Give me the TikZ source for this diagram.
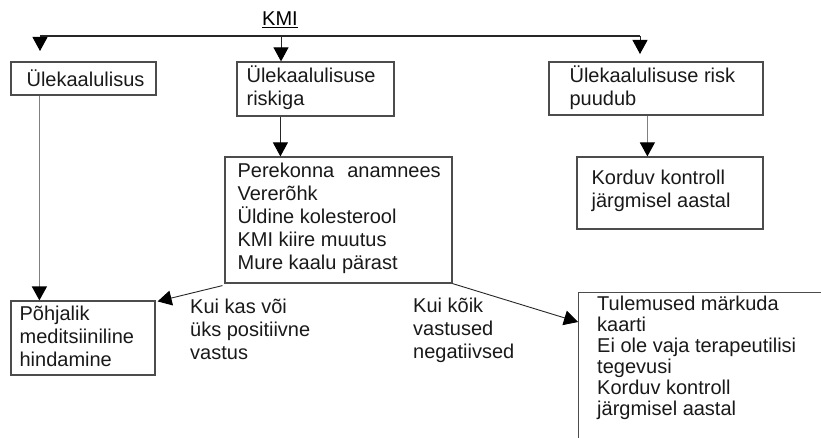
\documentclass[tikz,border=0pt]{standalone}
\usepackage{fontspec}
\setmainfont{Liberation Sans}
\usetikzlibrary{arrows.meta}
\begin{document}
\begin{tikzpicture}[x=1pt,y=-1pt,
  every node/.style={font=\fontsize{20}{23}\selectfont},
  boxs/.style={draw=black!70, line width=1.2pt, rectangle, inner sep=0pt},
  txt/.style={align=left, inner sep=0pt, text=black!90},
  ln/.style={draw=black!85, line width=0.9pt},
  grayln/.style={draw=black!50, line width=1.5pt},
  arr/.style={-{Triangle[length=14pt,width=15pt,fill=black,color=black]}}
]
\useasboundingbox (0,0) rectangle (821,438);
\clip (0,0) rectangle (821,438);

% KMI title
\node[inner sep=0pt] (kmi) at (280,20) {\underline{KMI}};

% boxes
\node[boxs, minimum width=145pt, minimum height=33pt] (b1) at (83.5,78.5) {};
\node[txt, anchor=west] (t1) at ([xshift=16pt]b1.west) {Ülekaalulisus};

\node[boxs, minimum width=157pt, minimum height=54pt] (b2) at (315.5,89) {};
\node[txt, anchor=west] (t2) at ([xshift=10pt,yshift=1pt]b2.west) {Ülekaalulisuse\\riskiga};

\node[boxs, minimum width=214pt, minimum height=53pt] (b3) at (656,88.5) {};
\node[txt, anchor=west] (t3) at ([xshift=21pt,yshift=1pt]b3.west) {Ülekaalulisuse risk\\puudub};

\node[boxs, minimum width=227pt, minimum height=126pt] (b5) at (338.5,220) {};
\node[txt, anchor=west] (t5) at ([xshift=13pt,yshift=2pt]b5.west) {Perekonna\hspace{13pt}anamnees\\Vererõhk\\Üldine kolesterool\\KMI kiire muutus\\Mure kaalu pärast};

\node[boxs, minimum width=186pt, minimum height=72pt] (bK) at (670,193) {};
\node[txt, anchor=west] (tK) at ([xshift=15pt,yshift=2pt]bK.west) {Korduv kontroll\\järgmisel aastal};

\node[boxs, minimum width=144pt, minimum height=74pt] (b4) at (83,338) {};
\node[txt, anchor=west] (t4) at ([xshift=9pt,yshift=2pt]b4.west) {Põhjalik\\meditsiiniline\\hindamine};

\node[boxs, anchor=north west, minimum width=260pt, minimum height=200pt] (b6) at (578,292) {};
\node[txt, anchor=north west, font=\fontsize{20}{21}\selectfont] (t6) at ([xshift=19pt,yshift=-4pt]b6.north west) {Tulemused märkuda\\kaarti\\Ei ole vaja terapeutilisi\\tegevusi\\Korduv kontroll\\järgmisel aastal};

% branch labels
\node[txt, anchor=north west] (lpos) at (190,299) {Kui kas või\\üks positiivne\\vastus};
\node[txt, anchor=north west] (lneg) at (413,298) {Kui kõik\\vastused\\negatiivsed};

% top distribution line
\coordinate (L) at (40,36);
\coordinate (M) at (281,36);
\coordinate (R) at (640,36);
\coordinate (La) at (40,51);
\coordinate (Ra) at (640,54);
\draw[ln, line width=1.1pt] (L) -- (R);
\draw[ln, arr] (L) -- (La);
\draw[ln, arr] (M) -- (M |- b2.north);
\draw[ln, arr] (R) -- (Ra);

% vertical connectors
\draw[grayln, arr] ([xshift=29pt]b1.south west) -- ([xshift=29pt]b1.south west |- b4.north);
\draw[ln, arr] ([xshift=44pt]b2.south west) -- ([xshift=44pt]b2.south west |- b5.north);
\draw[grayln, line width=1.2pt, arr] ([xshift=99pt]b3.south west) -- ([xshift=99pt]b3.south west |- bK.north);

% diagonal connectors
\draw[ln, arr] ([shift={(-2pt,-2pt)}]b5.south west) -- ([shift={(2pt,-1pt)}]b4.north east);
\draw[ln, arr] (b5.south east) -- ([yshift=-30pt]b6.north west);
\end{tikzpicture}
\end{document}
